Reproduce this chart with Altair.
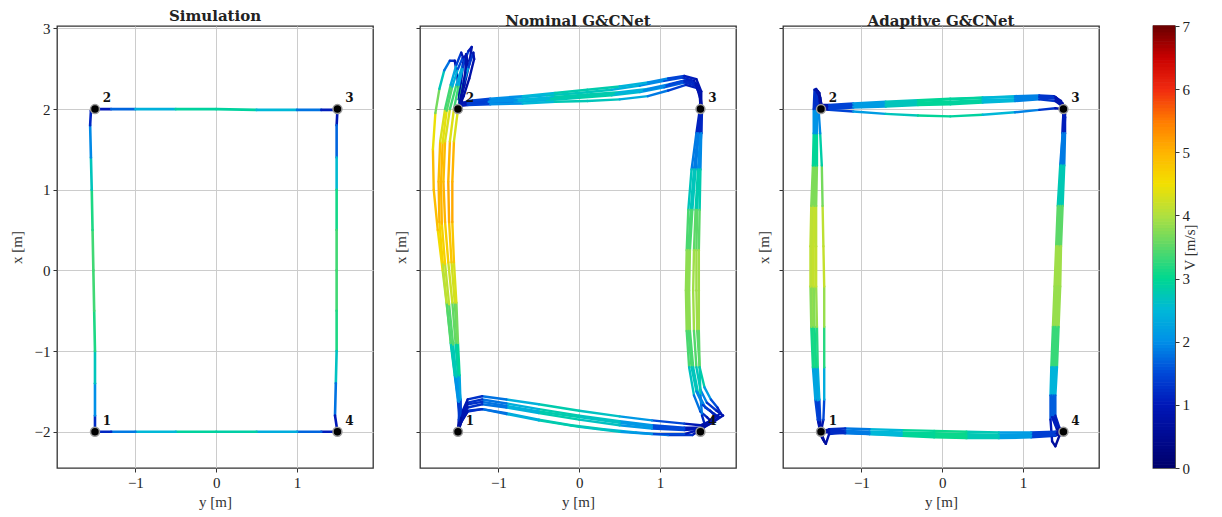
import altair as alt
import pandas as pd

# ---------------- colour map (V [m/s]) ----------------
V_STOPS = [0.0, 0.5, 1.0, 1.5, 2.0, 2.5, 3.0, 3.5, 4.0, 4.5, 5.0, 5.5, 6.0, 6.5, 7.0]
V_COLORS = ["#00006a", "#000a92", "#0018b8", "#0048d8", "#0090e8", "#00b8d8",
            "#00d890", "#5cd868", "#b0e040", "#f2e000", "#ffb400", "#ff7a00",
            "#f02a10", "#c80000", "#6a0000"]
V_TICKS = [0, 1, 2, 3, 4, 5, 6, 7]

# ---------------- waypoints ----------------
WP_Y = [-1.5, -1.5, 1.5, 1.5]
WP_X = [-2.0, 2.0, 2.0, -2.0]
WP_LABEL = ["1", "2", "3", "4"]

# ---------------- trajectories: (y [m], x [m], V [m/s]) ----------------
SIM_LAP = [(-1.50, -2.00, 0.8), (-1.50, -1.80, 1.6), (-1.50, -1.40, 2.4), (-1.50, -1.00, 3.0),
           (-1.51, -0.50, 3.3), (-1.52, 0.00, 3.4), (-1.53, 0.50, 3.3), (-1.54, 1.00, 3.0),
           (-1.55, 1.40, 2.4), (-1.56, 1.80, 1.5), (-1.55, 1.98, 0.8), (-1.50, 2.00, 0.6),
           (-1.30, 2.00, 1.4), (-1.00, 2.00, 2.0), (-0.50, 2.00, 2.8), (0.00, 2.00, 3.0),
           (0.50, 1.99, 2.8), (1.00, 1.99, 2.2), (1.30, 1.99, 1.4), (1.50, 1.99, 0.7),
           (1.49, 1.80, 1.2), (1.49, 1.40, 2.2), (1.49, 1.00, 2.9), (1.49, 0.50, 3.3),
           (1.49, 0.00, 3.4), (1.49, -0.50, 3.3), (1.49, -1.00, 3.0), (1.48, -1.40, 2.3),
           (1.47, -1.80, 1.3), (1.50, -2.00, 0.7), (1.30, -2.00, 1.4), (1.00, -2.00, 2.0),
           (0.50, -2.00, 2.7), (0.00, -2.00, 3.0), (-0.50, -2.00, 2.8), (-1.00, -2.00, 2.2),
           (-1.30, -2.00, 1.5), (-1.50, -2.00, 0.8)]

NOM_LAP_1 = [(-1.50, -2.00, 0.6), (-1.47, -1.88, 1.0), (-1.49, -1.65, 1.7), (-1.53, -1.35, 2.4),
             (-1.58, -0.95, 3.1), (-1.63, -0.50, 3.7), (-1.69, 0.00, 4.3), (-1.75, 0.50, 4.8),
             (-1.80, 1.00, 5.0), (-1.81, 1.50, 4.8), (-1.78, 1.95, 4.1), (-1.73, 2.25, 3.2),
             (-1.67, 2.48, 2.2), (-1.60, 2.60, 1.4), (-1.54, 2.60, 1.0), (-1.51, 2.42, 0.8),
             (-1.49, 2.20, 0.7), (-1.47, 2.06, 0.7), (-1.38, 2.09, 1.2), (-1.15, 2.11, 1.7),
             (-0.80, 2.14, 2.2), (-0.40, 2.17, 2.6), (0.00, 2.20, 2.8), (0.40, 2.24, 2.6),
             (0.75, 2.29, 2.2), (1.05, 2.35, 1.7), (1.28, 2.39, 1.3), (1.42, 2.35, 1.0),
             (1.49, 2.22, 0.8), (1.50, 2.02, 0.8), (1.48, 1.70, 1.4), (1.44, 1.25, 2.3),
             (1.40, 0.75, 3.1), (1.37, 0.25, 3.7), (1.36, -0.25, 3.9), (1.37, -0.75, 3.7),
             (1.41, -1.20, 3.1), (1.47, -1.52, 2.3), (1.56, -1.70, 1.6), (1.66, -1.77, 1.2),
             (1.73, -1.82, 1.0), (1.62, -1.90, 0.8), (1.51, -1.95, 0.7), (1.30, -1.95, 1.2),
             (0.90, -1.92, 1.8), (0.50, -1.87, 2.4), (0.00, -1.80, 2.9), (-0.50, -1.72, 2.7),
             (-0.90, -1.65, 2.1), (-1.20, -1.60, 1.5), (-1.38, -1.64, 1.0), (-1.46, -1.80, 0.8),
             (-1.50, -1.98, 0.6)]

NOM_LAP_2 = [(-1.50, -1.99, 0.6), (-1.46, -1.84, 1.1), (-1.47, -1.60, 1.8), (-1.50, -1.30, 2.5),
             (-1.53, -0.90, 3.2), (-1.57, -0.40, 3.9), (-1.62, 0.10, 4.5), (-1.66, 0.60, 4.9),
             (-1.68, 1.10, 5.1), (-1.66, 1.60, 4.7), (-1.60, 2.00, 3.9), (-1.52, 2.30, 2.8),
             (-1.44, 2.55, 1.8), (-1.37, 2.72, 1.1), (-1.33, 2.77, 0.9), (-1.36, 2.56, 0.8),
             (-1.42, 2.30, 0.8), (-1.47, 2.10, 0.7), (-1.40, 2.06, 1.0), (-1.15, 2.07, 1.6),
             (-0.80, 2.09, 2.1), (-0.40, 2.11, 2.6), (0.00, 2.14, 2.9), (0.40, 2.17, 2.8),
             (0.75, 2.21, 2.4), (1.05, 2.27, 1.9), (1.30, 2.33, 1.4), (1.44, 2.29, 1.0),
             (1.50, 2.17, 0.8), (1.51, 2.01, 0.8), (1.50, 1.70, 1.5), (1.47, 1.25, 2.4),
             (1.44, 0.75, 3.2), (1.42, 0.25, 3.8), (1.41, -0.25, 4.0), (1.42, -0.75, 3.8),
             (1.45, -1.20, 3.1), (1.50, -1.48, 2.3), (1.58, -1.64, 1.5), (1.70, -1.74, 1.1),
             (1.78, -1.80, 0.9), (1.66, -1.88, 0.8), (1.52, -1.96, 0.7), (1.30, -1.98, 1.2),
             (0.90, -1.96, 1.8), (0.50, -1.92, 2.4), (0.00, -1.85, 2.9), (-0.50, -1.77, 2.7),
             (-0.90, -1.70, 2.1), (-1.20, -1.66, 1.5), (-1.38, -1.70, 1.0), (-1.46, -1.85, 0.8),
             (-1.50, -1.99, 0.6)]

NOM_LAP_3 = [(-1.50, -2.00, 0.6), (-1.48, -1.86, 1.0), (-1.50, -1.62, 1.7), (-1.54, -1.30, 2.4),
             (-1.59, -0.90, 3.1), (-1.64, -0.40, 3.8), (-1.69, 0.10, 4.4), (-1.73, 0.60, 4.9),
             (-1.74, 1.10, 5.1), (-1.72, 1.60, 4.7), (-1.66, 2.00, 3.9), (-1.59, 2.30, 2.8),
             (-1.52, 2.55, 1.8), (-1.46, 2.70, 1.0), (-1.43, 2.62, 0.8), (-1.46, 2.35, 0.8),
             (-1.49, 2.12, 0.7), (-1.46, 2.04, 0.8), (-1.38, 2.05, 1.2), (-1.10, 2.06, 1.7),
             (-0.70, 2.07, 2.3), (-0.30, 2.09, 2.7), (0.10, 2.10, 2.8), (0.50, 2.12, 2.6),
             (0.85, 2.16, 2.1), (1.10, 2.23, 1.6), (1.32, 2.30, 1.2), (1.46, 2.26, 0.9),
             (1.50, 2.12, 0.8), (1.49, 1.98, 0.8), (1.45, 1.70, 1.4), (1.39, 1.25, 2.3),
             (1.35, 0.75, 3.1), (1.33, 0.25, 3.7), (1.32, -0.25, 3.9), (1.33, -0.75, 3.7),
             (1.36, -1.20, 3.1), (1.42, -1.55, 2.2), (1.50, -1.75, 1.4), (1.58, -1.82, 1.0),
             (1.62, -1.86, 0.8), (1.54, -1.95, 0.7), (1.40, -2.04, 1.0), (1.10, -2.04, 1.6),
             (0.70, -2.01, 2.2), (0.30, -1.97, 2.7), (-0.10, -1.92, 2.9), (-0.50, -1.85, 2.6),
             (-0.90, -1.77, 2.0), (-1.20, -1.72, 1.4), (-1.38, -1.75, 1.0), (-1.46, -1.88, 0.8),
             (-1.50, -2.00, 0.6)]

NOM_LAP_4 = [(-1.50, -2.00, 0.6), (-1.49, -1.85, 1.1), (-1.48, -1.60, 1.8), (-1.49, -1.30, 2.5),
             (-1.51, -0.90, 3.2), (-1.54, -0.40, 3.9), (-1.58, 0.10, 4.6), (-1.61, 0.60, 5.0),
             (-1.62, 1.10, 5.2), (-1.60, 1.60, 4.8), (-1.55, 2.00, 3.9), (-1.49, 2.30, 2.8),
             (-1.44, 2.52, 1.8), (-1.40, 2.68, 1.0), (-1.38, 2.60, 0.8), (-1.42, 2.35, 0.8),
             (-1.46, 2.15, 0.7), (-1.48, 2.06, 0.7), (-1.38, 2.08, 1.2), (-1.10, 2.10, 1.7),
             (-0.70, 2.12, 2.3), (-0.30, 2.15, 2.7), (0.10, 2.18, 2.9), (0.50, 2.21, 2.7),
             (0.85, 2.25, 2.2), (1.12, 2.31, 1.7), (1.33, 2.36, 1.2), (1.45, 2.31, 0.9),
             (1.50, 2.16, 0.8), (1.52, 2.00, 0.8), (1.51, 1.70, 1.5), (1.48, 1.25, 2.4),
             (1.46, 0.75, 3.2), (1.45, 0.25, 3.8), (1.45, -0.25, 4.0), (1.46, -0.75, 3.8),
             (1.49, -1.20, 3.2), (1.55, -1.45, 2.5), (1.63, -1.60, 1.8), (1.71, -1.70, 1.3),
             (1.75, -1.77, 1.0), (1.64, -1.86, 0.8), (1.50, -1.92, 0.7), (1.30, -1.90, 1.2),
             (0.90, -1.86, 1.8), (0.50, -1.81, 2.4), (0.00, -1.74, 2.9), (-0.50, -1.66, 2.7),
             (-0.90, -1.60, 2.1), (-1.20, -1.56, 1.5), (-1.38, -1.60, 1.0), (-1.46, -1.78, 0.8),
             (-1.50, -2.00, 0.6)]

NOM_LAP_5 = [(-1.50, -2.00, 0.6), (-1.47, -1.85, 1.1), (-1.47, -1.60, 1.9), (-1.48, -1.30, 2.6),
             (-1.50, -0.90, 3.3), (-1.52, -0.40, 4.0), (-1.55, 0.10, 4.6), (-1.57, 0.60, 5.0),
             (-1.57, 1.10, 5.2), (-1.55, 1.60, 4.8), (-1.50, 2.00, 3.8), (-1.44, 2.30, 2.7),
             (-1.37, 2.52, 1.7), (-1.31, 2.70, 1.0), (-1.30, 2.62, 0.8), (-1.36, 2.38, 0.8),
             (-1.43, 2.16, 0.7), (-1.47, 2.06, 0.7), (-1.38, 2.10, 1.2), (-1.10, 2.13, 1.7),
             (-0.70, 2.16, 2.3), (-0.30, 2.20, 2.7), (0.10, 2.24, 2.9), (0.50, 2.28, 2.7),
             (0.85, 2.33, 2.2), (1.10, 2.38, 1.7), (1.30, 2.41, 1.2), (1.45, 2.37, 0.9),
             (1.51, 2.22, 0.8), (1.51, 2.02, 0.8), (1.51, 1.70, 1.5), (1.50, 1.25, 2.4),
             (1.49, 0.75, 3.2), (1.48, 0.25, 3.8), (1.48, -0.25, 4.0), (1.48, -0.75, 3.8),
             (1.49, -1.20, 3.2), (1.50, -1.55, 2.3), (1.52, -1.80, 1.4), (1.55, -1.90, 0.9),
             (1.50, -1.97, 0.7), (1.30, -2.03, 1.2), (0.90, -2.03, 1.8), (0.50, -2.00, 2.4),
             (0.00, -1.94, 2.9), (-0.50, -1.86, 2.7), (-0.90, -1.78, 2.1), (-1.20, -1.72, 1.5),
             (-1.38, -1.74, 1.0), (-1.46, -1.88, 0.8), (-1.50, -2.00, 0.6)]

NOM_LAP_6 = [(-1.50, -2.00, 0.6), (-1.48, -1.87, 1.0), (-1.49, -1.63, 1.7), (-1.52, -1.32, 2.4),
             (-1.56, -0.92, 3.1), (-1.61, -0.42, 3.8), (-1.66, 0.08, 4.4), (-1.70, 0.58, 4.9),
             (-1.71, 1.08, 5.1), (-1.69, 1.58, 4.8), (-1.64, 1.98, 4.0), (-1.57, 2.28, 2.9),
             (-1.50, 2.50, 1.9), (-1.44, 2.64, 1.1), (-1.40, 2.66, 0.9), (-1.41, 2.45, 0.8),
             (-1.45, 2.22, 0.7), (-1.48, 2.08, 0.7), (-1.38, 2.07, 1.1), (-1.12, 2.09, 1.7),
             (-0.75, 2.11, 2.3), (-0.35, 2.13, 2.7), (0.05, 2.16, 2.9), (0.45, 2.19, 2.7),
             (0.80, 2.23, 2.2), (1.08, 2.29, 1.7), (1.30, 2.35, 1.3), (1.44, 2.32, 1.0),
             (1.50, 2.18, 0.8), (1.50, 2.01, 0.8), (1.47, 1.70, 1.4), (1.42, 1.25, 2.3),
             (1.38, 0.75, 3.1), (1.35, 0.25, 3.7), (1.34, -0.25, 3.9), (1.35, -0.75, 3.7),
             (1.39, -1.20, 3.1), (1.45, -1.50, 2.3), (1.53, -1.67, 1.6), (1.62, -1.74, 1.2),
             (1.68, -1.80, 1.0), (1.58, -1.90, 0.8), (1.50, -1.96, 0.7), (1.30, -1.97, 1.2),
             (0.90, -1.94, 1.8), (0.50, -1.89, 2.4), (0.00, -1.82, 2.9), (-0.50, -1.75, 2.7),
             (-0.90, -1.68, 2.1), (-1.20, -1.63, 1.5), (-1.38, -1.66, 1.0), (-1.46, -1.83, 0.8),
             (-1.50, -2.00, 0.6)]

ADA_LAP_1 = [(-1.50, -2.00, 0.6), (-1.52, -1.85, 1.0), (-1.55, -1.60, 1.8), (-1.58, -1.20, 2.7),
             (-1.61, -0.70, 3.5), (-1.62, -0.20, 4.0), (-1.62, 0.30, 4.2), (-1.61, 0.80, 4.0),
             (-1.59, 1.30, 3.4), (-1.58, 1.70, 2.5), (-1.58, 2.00, 1.6), (-1.57, 2.22, 0.9),
             (-1.53, 2.18, 0.7), (-1.50, 2.02, 0.6), (-1.40, 2.02, 1.1), (-1.10, 2.04, 1.8),
             (-0.70, 2.06, 2.5), (-0.30, 2.08, 2.9), (0.10, 2.09, 3.0), (0.50, 2.11, 2.8),
             (0.90, 2.12, 2.2), (1.20, 2.14, 1.6), (1.40, 2.13, 1.0), (1.50, 2.05, 0.7),
             (1.51, 1.95, 0.7), (1.50, 1.70, 1.4), (1.48, 1.30, 2.3), (1.45, 0.80, 3.2),
             (1.43, 0.30, 3.8), (1.41, -0.20, 4.0), (1.39, -0.70, 3.7), (1.37, -1.20, 2.9),
             (1.36, -1.55, 2.0), (1.37, -1.80, 1.3), (1.42, -1.95, 0.8), (1.50, -2.00, 0.6),
             (1.40, -2.03, 1.0), (1.10, -2.04, 1.8), (0.70, -2.04, 2.5), (0.30, -2.03, 3.0),
             (-0.10, -2.02, 3.1), (-0.50, -2.01, 2.8), (-0.90, -2.00, 2.2), (-1.20, -1.99, 1.5),
             (-1.40, -1.99, 0.9), (-1.50, -2.00, 0.6)]

ADA_LAP_2 = [(-1.50, -2.00, 0.6), (-1.47, -1.85, 1.1), (-1.46, -1.60, 1.9), (-1.46, -1.20, 2.8),
             (-1.46, -0.70, 3.6), (-1.46, -0.20, 4.1), (-1.47, 0.30, 4.2), (-1.48, 0.80, 4.0),
             (-1.49, 1.30, 3.3), (-1.51, 1.70, 2.4), (-1.53, 2.00, 1.5), (-1.55, 2.18, 0.8),
             (-1.52, 2.10, 0.7), (-1.49, 2.00, 0.6), (-1.40, 1.99, 1.1), (-1.10, 1.97, 1.8),
             (-0.70, 1.94, 2.5), (-0.30, 1.92, 2.9), (0.10, 1.91, 3.0), (0.50, 1.93, 2.8),
             (0.90, 1.96, 2.2), (1.20, 1.99, 1.6), (1.40, 2.01, 1.0), (1.50, 2.00, 0.7),
             (1.52, 1.90, 0.8), (1.51, 1.70, 1.4), (1.49, 1.30, 2.3), (1.47, 0.80, 3.2),
             (1.45, 0.30, 3.8), (1.44, -0.20, 4.0), (1.42, -0.70, 3.7), (1.40, -1.20, 2.9),
             (1.38, -1.55, 2.0), (1.38, -1.80, 1.3), (1.43, -1.96, 0.8), (1.50, -2.01, 0.6),
             (1.40, -2.05, 1.0), (1.10, -2.07, 1.8), (0.70, -2.08, 2.5), (0.30, -2.08, 3.0),
             (-0.10, -2.07, 3.1), (-0.50, -2.05, 2.8), (-0.90, -2.03, 2.2), (-1.20, -2.01, 1.5),
             (-1.40, -2.00, 0.9), (-1.50, -2.00, 0.6)]

ADA_LAP_3 = [(-1.50, -2.00, 0.6), (-1.53, -1.88, 1.0), (-1.55, -1.62, 1.8), (-1.57, -1.20, 2.8),
             (-1.59, -0.70, 3.6), (-1.60, -0.20, 4.1), (-1.60, 0.30, 4.2), (-1.59, 0.80, 4.0),
             (-1.58, 1.30, 3.4), (-1.57, 1.70, 2.5), (-1.57, 2.00, 1.5), (-1.56, 2.25, 0.8),
             (-1.52, 2.20, 0.7), (-1.49, 2.03, 0.6), (-1.40, 2.04, 1.1), (-1.10, 2.06, 1.8),
             (-0.70, 2.08, 2.5), (-0.30, 2.10, 2.9), (0.10, 2.12, 3.0), (0.50, 2.14, 2.8),
             (0.90, 2.16, 2.2), (1.20, 2.17, 1.6), (1.38, 2.16, 1.0), (1.47, 2.10, 0.7),
             (1.50, 2.00, 0.7), (1.49, 1.70, 1.4), (1.46, 1.30, 2.3), (1.43, 0.80, 3.2),
             (1.41, 0.30, 3.8), (1.39, -0.20, 4.0), (1.37, -0.70, 3.7), (1.35, -1.20, 2.9),
             (1.34, -1.55, 2.0), (1.34, -1.85, 1.2), (1.36, -2.12, 0.8), (1.40, -2.18, 0.6),
             (1.45, -2.05, 0.6), (1.50, -1.99, 0.6), (1.40, -2.00, 1.0), (1.10, -2.01, 1.8),
             (0.70, -2.01, 2.5), (0.30, -2.00, 3.0), (-0.10, -1.99, 3.1), (-0.50, -1.98, 2.8),
             (-0.90, -1.97, 2.2), (-1.20, -1.96, 1.5), (-1.40, -1.97, 0.9), (-1.50, -2.00, 0.6)]

ADA_LAP_4 = [(-1.50, -2.00, 0.6), (-1.46, -2.12, 0.7), (-1.50, -2.05, 0.8), (-1.54, -1.85, 1.1),
             (-1.57, -1.60, 1.8), (-1.60, -1.20, 2.7), (-1.62, -0.70, 3.5), (-1.63, -0.20, 4.0),
             (-1.63, 0.30, 4.2), (-1.62, 0.80, 4.0), (-1.60, 1.30, 3.4), (-1.59, 1.70, 2.5),
             (-1.59, 2.00, 1.6), (-1.58, 2.24, 0.9), (-1.54, 2.22, 0.7), (-1.50, 2.05, 0.6),
             (-1.40, 2.05, 1.1), (-1.10, 2.07, 1.8), (-0.70, 2.09, 2.5), (-0.30, 2.11, 2.9),
             (0.10, 2.13, 3.0), (0.50, 2.14, 2.8), (0.90, 2.15, 2.2), (1.20, 2.16, 1.6),
             (1.40, 2.14, 1.0), (1.49, 2.06, 0.7), (1.51, 1.96, 0.7), (1.50, 1.70, 1.4),
             (1.48, 1.30, 2.3), (1.46, 0.80, 3.2), (1.44, 0.30, 3.8), (1.42, -0.20, 4.0),
             (1.40, -0.70, 3.7), (1.38, -1.20, 2.9), (1.37, -1.55, 2.0), (1.38, -1.82, 1.3),
             (1.44, -1.97, 0.8), (1.50, -2.00, 0.6), (1.40, -2.02, 1.0), (1.10, -2.03, 1.8),
             (0.70, -2.04, 2.5), (0.30, -2.04, 3.0), (-0.10, -2.03, 3.1), (-0.50, -2.02, 2.8),
             (-0.90, -2.01, 2.2), (-1.20, -2.00, 1.5), (-1.40, -2.00, 0.9), (-1.50, -2.00, 0.6)]

ADA_LAP_5 = [(-1.50, -2.00, 0.6), (-1.51, -1.85, 1.1), (-1.52, -1.60, 1.9), (-1.54, -1.20, 2.8),
             (-1.55, -0.70, 3.6), (-1.56, -0.20, 4.1), (-1.56, 0.30, 4.2), (-1.56, 0.80, 4.0),
             (-1.55, 1.30, 3.4), (-1.55, 1.70, 2.5), (-1.55, 2.00, 1.6), (-1.54, 2.20, 0.9),
             (-1.51, 2.14, 0.7), (-1.49, 2.01, 0.6), (-1.40, 2.00, 1.1), (-1.10, 2.02, 1.8),
             (-0.70, 2.03, 2.5), (-0.30, 2.05, 2.9), (0.10, 2.06, 3.0), (0.50, 2.08, 2.8),
             (0.90, 2.10, 2.2), (1.20, 2.12, 1.6), (1.40, 2.10, 1.0), (1.48, 2.04, 0.7),
             (1.52, 1.94, 0.7), (1.52, 1.70, 1.4), (1.51, 1.30, 2.3), (1.49, 0.80, 3.2),
             (1.47, 0.30, 3.8), (1.46, -0.20, 4.0), (1.44, -0.70, 3.7), (1.42, -1.20, 2.9),
             (1.40, -1.55, 2.0), (1.40, -1.80, 1.3), (1.45, -1.95, 0.8), (1.50, -2.00, 0.6),
             (1.40, -2.04, 1.0), (1.10, -2.06, 1.8), (0.70, -2.06, 2.5), (0.30, -2.06, 3.0),
             (-0.10, -2.05, 3.1), (-0.50, -2.04, 2.8), (-0.90, -2.03, 2.2), (-1.20, -2.02, 1.5),
             (-1.40, -2.01, 0.9), (-1.50, -2.00, 0.6)]

ADA_LAP_6 = [(-1.50, -2.00, 0.6), (-1.52, -1.86, 1.0), (-1.54, -1.61, 1.8), (-1.56, -1.20, 2.7),
             (-1.58, -0.70, 3.5), (-1.59, -0.20, 4.0), (-1.59, 0.30, 4.3), (-1.58, 0.80, 4.0),
             (-1.57, 1.30, 3.4), (-1.56, 1.70, 2.5), (-1.56, 2.00, 1.6), (-1.55, 2.21, 0.9),
             (-1.52, 2.16, 0.7), (-1.50, 2.01, 0.6), (-1.40, 2.01, 1.1), (-1.10, 2.03, 1.8),
             (-0.70, 2.05, 2.5), (-0.30, 2.07, 2.9), (0.10, 2.08, 3.0), (0.50, 2.10, 2.8),
             (0.90, 2.12, 2.2), (1.20, 2.15, 1.6), (1.40, 2.15, 1.0), (1.49, 2.07, 0.7),
             (1.50, 1.97, 0.7), (1.49, 1.70, 1.4), (1.47, 1.30, 2.3), (1.44, 0.80, 3.2),
             (1.42, 0.30, 3.8), (1.40, -0.20, 4.0), (1.38, -0.70, 3.7), (1.36, -1.20, 2.9),
             (1.35, -1.55, 2.0), (1.36, -1.82, 1.3), (1.42, -1.97, 0.8), (1.50, -2.00, 0.6),
             (1.40, -2.04, 1.0), (1.10, -2.05, 1.8), (0.70, -2.05, 2.5), (0.30, -2.05, 3.0),
             (-0.10, -2.04, 3.1), (-0.50, -2.03, 2.8), (-0.90, -2.02, 2.2), (-1.20, -2.01, 1.5),
             (-1.40, -2.03, 0.9), (-1.44, -2.15, 0.7), (-1.48, -2.08, 0.6), (-1.50, -2.00, 0.6)]

# colour-bar levels
CBAR_STEP = 0.05
CBAR_LEVELS = [round(i * CBAR_STEP, 2) for i in range(140)]

# ---------------- styling ----------------
SERIF = "Liberation Serif"
TITLE_FONT = "DejaVu Serif"
FRAME = "#333333"

cscale = alt.Scale(domain=V_STOPS, range=V_COLORS, interpolate="rgb")
xscale = alt.Scale(domain=[-1.97, 1.94], nice=False, zero=False)
yscale = alt.Scale(domain=[-2.45, 3.03], nice=False, zero=False)


def segments(laps):
    rows = []
    for li, lap in enumerate(laps):
        for a, b in zip(lap[:-1], lap[1:]):
            rows.append({"lap": li, "ye": a[0], "xn": a[1], "ye2": b[0], "xn2": b[1],
                         "spd": (a[2] + b[2]) / 2})
    return pd.DataFrame(rows)


wp_df = pd.DataFrame({"ye": WP_Y, "xn": WP_X, "label": WP_LABEL})


def panel(title, laps, show_labels, sw):
    xax = alt.Axis(values=[-1, 0, 1], title="y [m]", grid=True, gridColor="#cccccc",
                   gridWidth=1, domain=False, tickColor=FRAME, tickSize=4,
                   labelFont=SERIF, labelFontSize=15, labelColor="#222",
                   titleFont=SERIF, titleFontSize=15, titleFontWeight="normal",
                   titleColor="#333", labelPadding=3, titlePadding=4)
    yax = alt.Axis(values=[-2, -1, 0, 1, 2, 3], title="x [m]", grid=True,
                   gridColor="#cccccc", gridWidth=1, domain=False, tickColor=FRAME,
                   tickSize=4, labels=show_labels, labelFont=SERIF, labelFontSize=15,
                   labelColor="#222", titleFont=SERIF, titleFontSize=15,
                   titleFontWeight="normal", titleColor="#333", labelPadding=3,
                   titlePadding=(10 if show_labels else 7))
    x = alt.X("ye:Q", scale=xscale, axis=xax)
    y = alt.Y("xn:Q", scale=yscale, axis=yax)
    lines = alt.Chart(segments(laps)).mark_rule(
        strokeWidth=sw, strokeCap="round", clip=True
    ).encode(x=x, y=y, x2="ye2:Q", y2="xn2:Q",
             color=alt.Color("spd:Q", scale=cscale, legend=None))
    pts = alt.Chart(wp_df).mark_circle(
        size=80, fill="black", stroke="#9a9a9a", strokeWidth=1.5, opacity=1
    ).encode(x=x, y=y)
    txt = alt.Chart(wp_df).mark_text(
        dx=12, dy=-11, font=TITLE_FONT, fontWeight="bold", fontSize=12, color="#111"
    ).encode(x=x, y=y, text="label:N")
    return alt.layer(lines, pts, txt).properties(
        width=316, height=442,
        title=alt.TitleParams(title, font=TITLE_FONT, fontWeight="bold", fontSize=15,
                              color="#222", offset=-3)
    )


p1 = panel("Simulation", [SIM_LAP], True, 2.6)
p2 = panel("Nominal G&CNet",
           [NOM_LAP_1, NOM_LAP_2, NOM_LAP_3, NOM_LAP_4, NOM_LAP_5, NOM_LAP_6], False, 2.4)
p3 = panel("Adaptive G&CNet",
           [ADA_LAP_1, ADA_LAP_2, ADA_LAP_3, ADA_LAP_4, ADA_LAP_5, ADA_LAP_6], False, 2.4)

cb_df = pd.DataFrame({"lo": CBAR_LEVELS})
cb_df["hi"] = cb_df["lo"] + CBAR_STEP * 1.2
cb_df["mid"] = cb_df["lo"] + CBAR_STEP / 2
cbar = alt.Chart(cb_df).mark_rect().encode(
    y=alt.Y("lo:Q", scale=alt.Scale(domain=[0, 7], nice=False, zero=False),
            axis=alt.Axis(orient="right", values=V_TICKS, title="V [m/s]", grid=False,
                          domain=False, tickColor=FRAME, tickSize=4, labelFont=SERIF,
                          labelFontSize=15, labelColor="#222", titleFont=SERIF,
                          titleFontSize=15, titleFontWeight="normal", titleColor="#333",
                          titleAngle=270, titlePadding=8, labelPadding=3)),
    y2="hi:Q",
    color=alt.Color("mid:Q", scale=cscale, legend=None),
).properties(width=22, height=442)

row12 = alt.hconcat(p1, p2, spacing=18)
row123 = alt.hconcat(row12, p3, spacing=18)

chart = alt.hconcat(
    row123,
    cbar,
    spacing=52,
).properties(
    padding={"left": 0, "top": 0, "right": 5, "bottom": 2}
).configure_view(
    stroke=FRAME, strokeWidth=1.3
)

chart.save("out.html", embed_options={"renderer": "svg", "actions": False})
